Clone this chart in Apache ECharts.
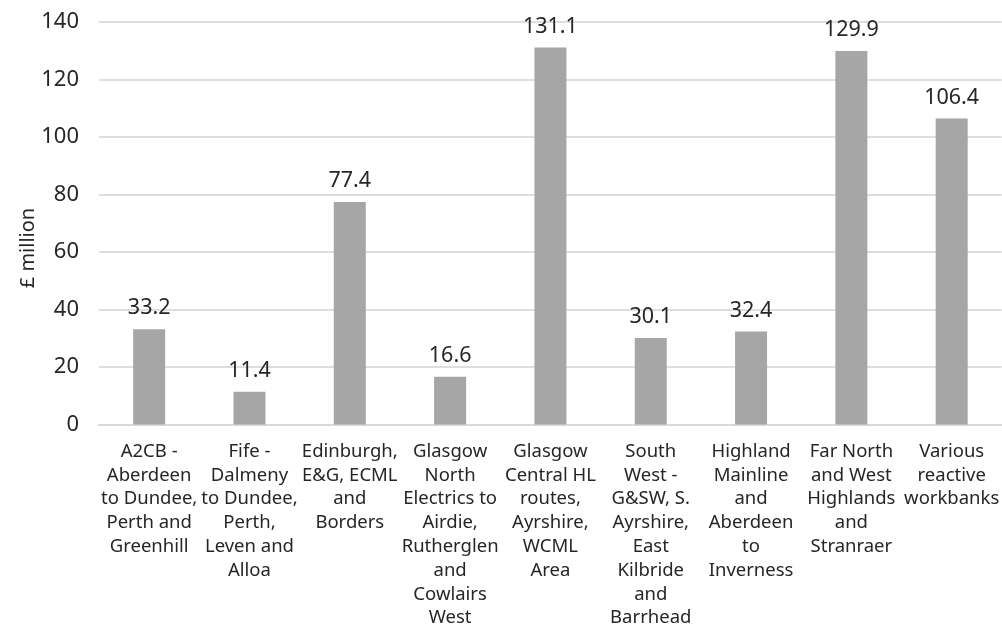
<!DOCTYPE html>
<html>
<head>
<meta charset="utf-8">
<script src="https://cdn.jsdelivr.net/npm/echarts@6/dist/echarts.min.js"></script>
<style>
  html, body { margin: 0; padding: 0; background: #fff; }
  #chart { width: 1002px; height: 630px; }
</style>
</head>
<body>
<div id="chart"></div>
<script>
// Route categories (line breaks as they wrap under each bar)
const categories = [
  "A2CB -\nAberdeen\nto Dundee,\nPerth and\nGreenhill",
  "Fife -\nDalmeny\nto Dundee,\nPerth,\nLeven and\nAlloa",
  "Edinburgh,\nE&G, ECML\nand\nBorders",
  "Glasgow\nNorth\nElectrics to\nAirdie,\nRutherglen\nand\nCowlairs\nWest",
  "Glasgow\nCentral HL\nroutes,\nAyrshire,\nWCML\nArea",
  "South\nWest -\nG&SW, S.\nAyrshire,\nEast\nKilbride\nand\nBarrhead",
  "Highland\nMainline\nand\nAberdeen\nto\nInverness",
  "Far North\nand West\nHighlands\nand\nStranraer",
  "Various\nreactive\nworkbanks"
];

// Spend per route, £ million
const values = [33.2, 11.4, 77.4, 16.6, 131.1, 30.1, 32.4, 129.9, 106.4];

// Value axis range
const yMin = 0;
const yMax = 140;
const yStep = 20;

const yAxisTitle = "£ million";

const fontFamily = "'Noto Sans', 'Open Sans', sans-serif";
const textColor = "#262626";

const chart = echarts.init(document.getElementById('chart'));
chart.setOption({
  animation: false,
  grid: { left: 99, top: 22, width: 908, height: 406, containLabel: false },
  xAxis: {
    type: 'category',
    data: categories,
    axisLine: { show: true, lineStyle: { color: '#d9d9d9', width: 2 } },
    axisTick: { show: false },
    axisLabel: {
      interval: 0,
      margin: 15,
      color: textColor,
      fontFamily: fontFamily,
      fontSize: 18.5,
      lineHeight: 23.8,
      align: 'center'
    }
  },
  yAxis: {
    type: 'value',
    min: yMin,
    max: yMax,
    interval: yStep,
    axisLine: { show: false },
    axisTick: { show: false },
    splitLine: { show: true, lineStyle: { color: '#dedede', width: 2 } },
    axisLabel: {
      margin: 20,
      color: textColor,
      fontFamily: fontFamily,
      fontSize: 22
    }
  },
  graphic: [{
    type: 'text',
    x: 28,
    y: 248,
    rotation: Math.PI / 2,
    style: {
      text: yAxisTitle,
      fill: textColor,
      font: "20px 'Noto Sans', 'Open Sans', sans-serif",
      align: 'center',
      verticalAlign: 'middle'
    }
  }],
  series: [{
    type: 'bar',
    data: values,
    barWidth: 32,
    itemStyle: { color: '#a6a6a6' },
    label: {
      show: true,
      position: 'top',
      distance: 10,
      color: textColor,
      fontFamily: fontFamily,
      fontSize: 21.5,
      formatter: (p) => p.value.toFixed(1)
    }
  }]
});
</script>
</body>
</html>
